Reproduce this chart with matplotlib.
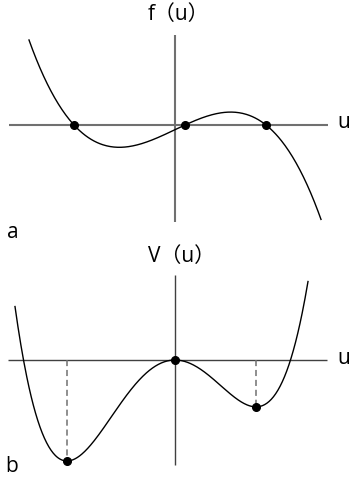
import numpy as np
import matplotlib
matplotlib.use("Agg")
import matplotlib.pyplot as plt

plt.rcParams['font.family'] = ['Open Sans', 'Noto Sans CJK SC', 'DejaVu Sans']

# Panel a: cubic reaction term f(u) = -A (u - r1)(u - r2)(u - r3)
f_roots = [-1.01, 0.10, 0.91]
f_scale = 0.511
f_u_range = [-1.46, 1.46]

# Panel b: quartic potential with critical points at the wells and the barrier
v_wells = [-1.08, 0.81]
v_barrier = 0.0
v_scale = 3.563
v_u_range = [-1.60, 1.33]

panel_letters = ["a", "b"]
panel_titles = ["f\uff08u\uff09", "V\uff08u\uff09"]
axis_label = "u"


def f_of_u(u):
    r1, r2, r3 = f_roots
    return -f_scale * (u - r1) * (u - r2) * (u - r3)


def v_of_u(u):
    m1, m2 = v_wells
    return v_scale * (u**4 / 4 - (m1 + m2) / 3 * u**3 + m1 * m2 / 2 * u**2)


W, H, DPI = 349, 483, 100
fig = plt.figure(figsize=(W / DPI, H / DPI), dpi=DPI)

# each panel: 1 data unit = 100 px, origin placed at the axis crossing
ax_a = fig.add_axes([0, 0.5, 1, 0.5])
ax_b = fig.add_axes([0, 0.0, 1, 0.5])
half = H / 2
ax_a.set_xlim(-1.75, 1.74)
ax_a.set_ylim((125 - half) / 100, 125 / 100)
ax_b.set_xlim(-1.75, 1.74)
ax_b.set_ylim((360 - H) / 100, (360 - half) / 100)
for ax in (ax_a, ax_b):
    ax.axis("off")

text_kw = dict(fontsize=15, color="black", ha="center", va="center")

# ---- panel a ----
ax_a.plot([-1.66, 1.53], [0, 0], color="#707070", lw=1.5, solid_capstyle="butt")
ax_a.plot([0, 0], [0.90, -0.97], color="#707070", lw=1.5, solid_capstyle="butt")
u = np.linspace(f_u_range[0], f_u_range[1], 400)
ax_a.plot(u, f_of_u(u), color="black", lw=1.0)
ax_a.plot(f_roots, [0.0 for _ in f_roots], "o", color="black", ms=5.5, zorder=5)
ax_a.text(1.69, 0.02, axis_label, **text_kw)
ax_a.text(0.03, 1.11, panel_titles[0], **text_kw)
ax_a.text(-1.62, -1.07, panel_letters[0], **text_kw)

# ---- panel b ----
ax_b.plot([-1.67, 1.52], [0, 0], color="#404040", lw=1.0, solid_capstyle="butt")
ax_b.plot([0, 0], [0.85, -1.05], color="#404040", lw=1.0, solid_capstyle="butt")
u = np.linspace(v_u_range[0], v_u_range[1], 400)
ax_b.plot(u, v_of_u(u), color="black", lw=1.0)
for m in v_wells:
    ax_b.plot([m, m], [0, v_of_u(m)], color="#707070", lw=1.1, dashes=(4, 2.5))
pts = [v_wells[0], v_barrier, v_wells[1]]
ax_b.plot(pts, [v_of_u(p) for p in pts], "o", color="black", ms=5.5, zorder=5)
ax_b.text(1.69, 0.02, axis_label, **text_kw)
ax_b.text(0.06, 1.03, panel_titles[1], **text_kw)
ax_b.text(-1.63, -1.07, panel_letters[1], **text_kw)

fig.savefig("out.png", dpi=DPI)
